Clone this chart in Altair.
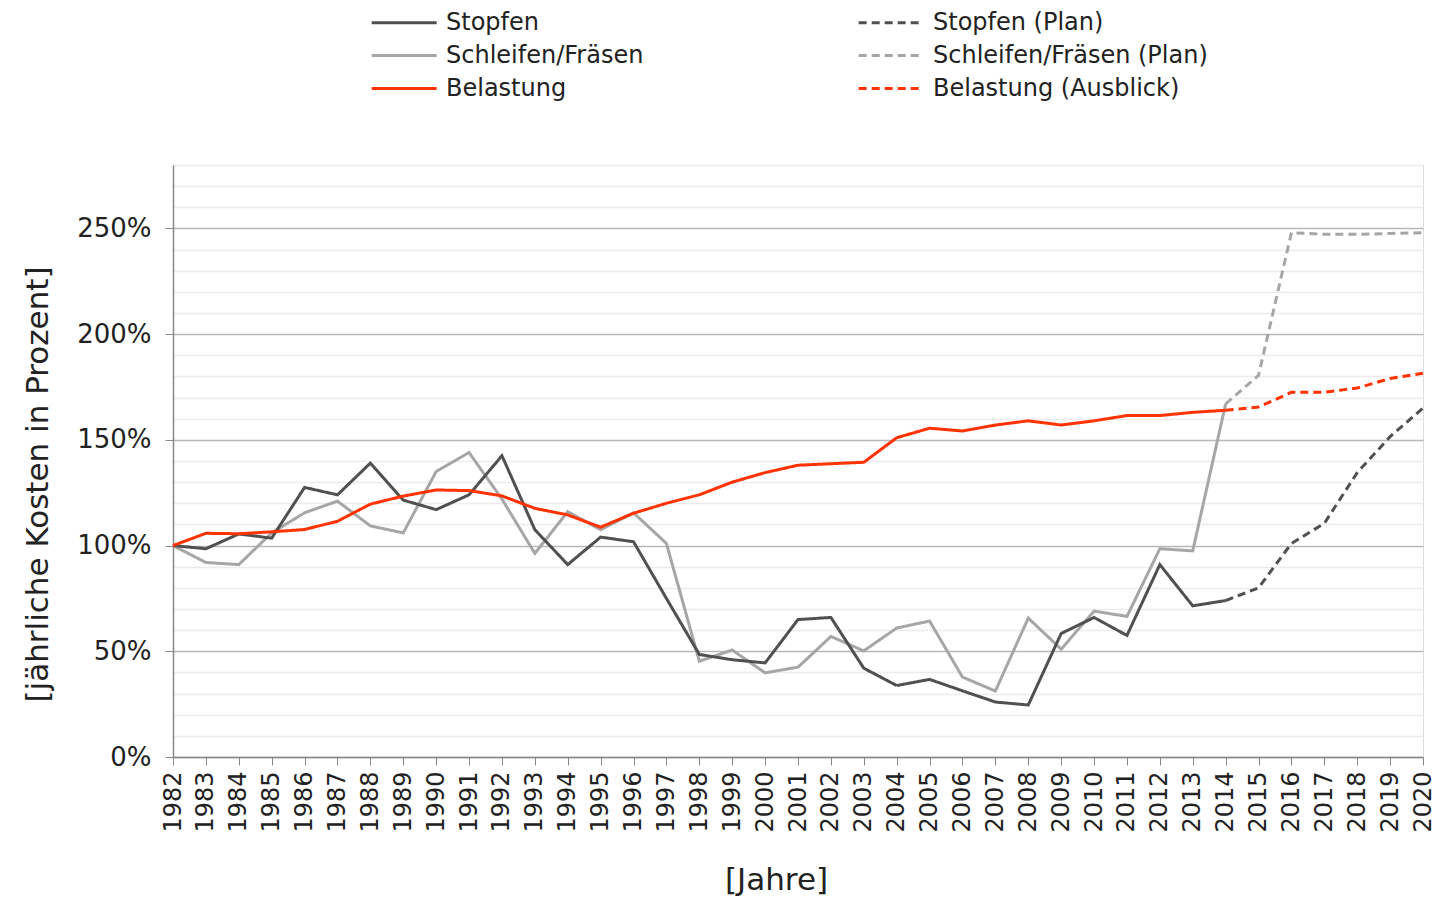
import altair as alt
import pandas as pd

years_hist = list(range(1982, 2015))
years_plan = list(range(2014, 2021))

stopfen = [100, 98.5, 105.5, 103.5, 127.5, 124, 139, 121.5, 117, 124, 142.5, 107.5, 91, 104,
           101.8, 75, 48.5, 46, 44.5, 65, 66, 42, 33.8, 36.7, 31.3, 26, 24.6, 58.4, 66,
           57.5, 91, 71.5, 74]
schleifen = [100, 92, 91, 106, 115.5, 121, 109.3, 106, 135, 144, 122, 96.3, 116, 107.5,
             115.5, 101, 45.3, 50.6, 39.8, 42.5, 57, 50.2, 61, 64.3, 37.8, 31.2, 65.7, 51,
             69, 66.5, 98.5, 97.5, 167]
belastung = [100, 105.8, 105.6, 106.5, 107.6, 111.5, 119.6, 123.4, 126.3, 126, 123.5, 117.6,
             114.5, 108.7, 115.3, 120, 124, 130, 134.5, 138, 138.7, 139.4, 151, 155.5,
             154.2, 157, 159, 157, 159, 161.5, 161.5, 163, 164]
stopfen_plan = [74, 80, 101, 110.5, 134.5, 151.5, 165]
schleifen_plan = [167, 180.5, 248, 247.2, 247.2, 247.6, 248]
belastung_plan = [164, 165.5, 172.5, 172.5, 174.5, 179, 181.5]

series_names = ["Stopfen", "Schleifen/Fräsen", "Belastung",
                "Stopfen (Plan)", "Schleifen/Fräsen (Plan)", "Belastung (Ausblick)"]
series_colors = ["#505050", "#a6a6a6", "#ff3300", "#505050", "#a6a6a6", "#ff3300"]
series_dash = [[1, 0], [1, 0], [1, 0], [8, 5], [8, 5], [8, 5]]

rows = []
for name, yrs, vals in [
    ("Schleifen/Fräsen (Plan)", years_plan, schleifen_plan),
    ("Stopfen (Plan)", years_plan, stopfen_plan),
    ("Schleifen/Fräsen", years_hist, schleifen),
    ("Stopfen", years_hist, stopfen),
    ("Belastung (Ausblick)", years_plan, belastung_plan),
    ("Belastung", years_hist, belastung),
]:
    for yr, v in zip(yrs, vals):
        rows.append({"Jahr": yr, "Wert": v, "Reihe": name})
df = pd.DataFrame(rows)

all_years = list(range(1982, 2021))
y_values = list(range(0, 290, 10))

font = "DejaVu Sans"

legend_kw = dict(title=None, orient="none", legendX=197, legendY=-155,
                 columns=2, columnPadding=208, rowPadding=8,
                 symbolType="M-1,0H5", symbolSize=469,
                 symbolStrokeWidth=3, labelFont=font,
                 labelFontSize=24, labelColor="#222", labelOffset=51,
                 labelLimit=400)

chart = alt.Chart(df).mark_line(strokeWidth=3, strokeJoin="miter").encode(
    x=alt.X("Jahr:Q",
            scale=alt.Scale(domain=[1982, 2020], nice=False, zero=False),
            axis=alt.Axis(values=all_years, format="d", labelAngle=270, grid=False,
                          title="[Jahre]", titleFont=font, titleFontSize=31,
                          titleFontWeight="normal", titlePadding=33, titleColor="#222",
                          titleX=603, titleAlign="center",
                          labelFont=font, labelFontSize=24, labelColor="#222",
                          labelPadding=6, tickSize=8, tickColor="#888", domainColor="#888",
                          domainWidth=1.5, labelOverlap=False, labelFlush=False)),
    y=alt.Y("Wert:Q",
            scale=alt.Scale(domain=[0, 280], nice=False),
            axis=alt.Axis(values=y_values,
                          labelExpr="datum.value % 50 == 0 ? datum.value + '%' : ''",
                          gridColor={"condition": {"test": "datum.value % 50 == 0", "value": "#b8b8b8"},
                                     "value": "#ececec"},
                          gridWidth=1.5,
                          tickColor={"condition": {"test": "datum.value % 50 == 0", "value": "#888"},
                                     "value": "transparent"},
                          tickSize=8, domainColor="#888", domainWidth=1.5,
                          labelFont=font, labelFontSize=26, labelColor="#222",
                          labelPadding=14,
                          title="[jährliche Kosten in Prozent]", titleFont=font,
                          titleFontSize=31, titleFontWeight="normal", titleColor="#222",
                          titlePadding=22, titleY=319)),
    color=alt.Color("Reihe:N",
                    scale=alt.Scale(domain=series_names, range=series_colors),
                    legend=alt.Legend(**legend_kw)),
    strokeDash=alt.StrokeDash("Reihe:N",
                              scale=alt.Scale(domain=series_names, range=series_dash),
                              legend=alt.Legend(**legend_kw)),
).properties(
    width=1250,
    height=592,
    autosize=alt.AutoSizeParams(type="none"),
    padding={"left": 165, "top": 157, "right": 12, "bottom": 139},
).configure_view(stroke=None).configure(background="white")

chart.save("out.html", embed_options={"renderer": "svg", "actions": False})
